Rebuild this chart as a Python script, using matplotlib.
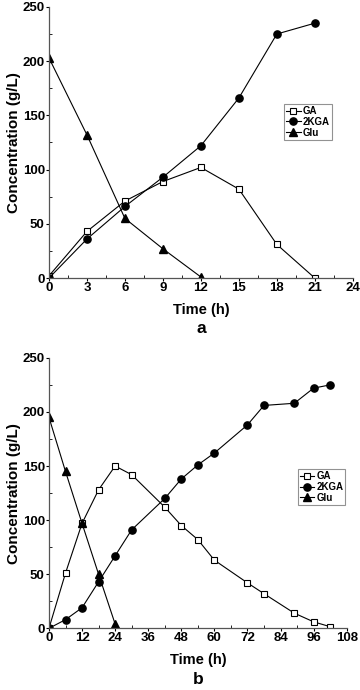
import matplotlib
matplotlib.use("Agg")
import matplotlib.pyplot as plt
from matplotlib.ticker import MultipleLocator

plt.rcParams['font.family'] = ['Liberation Sans', 'DejaVu Sans']
plt.rcParams['font.weight'] = 'bold'

# panel a
t_a = [0, 3, 6, 9, 12, 15, 18, 21]
ga_a = [2, 43, 71, 89, 102, 82, 31, 0]
kga_a = [0, 36, 66, 93, 122, 166, 225, 235]
t_glu_a = [0, 3, 6, 9, 12]
glu_a = [203, 132, 55, 27, 1]

# panel b
t_b = [0, 6, 12, 18, 24, 30, 42, 48, 54, 60, 72, 78, 89, 96, 102]
ga_b = [0, 51, 97, 128, 150, 142, 112, 95, 82, 63, 42, 32, 14, 6, 1.5]
kga_b = [0, 8, 19, 43, 67, 91, 120, 138, 151, 162, 188, 206, 208, 222, 225]
t_glu_b = [0, 6, 12, 18, 24]
glu_b = [195, 145, 97, 50, 4]


def draw_panel(ax, t, ga, kga, tg, glu, xmax, xstep, letter, leg_anchor):
    ax.plot(t, ga, '-s', color='black', mfc='white', mec='black', ms=4.8, lw=0.8, mew=0.8, label='GA')
    ax.plot(t, kga, '-o', color='black', ms=5.2, lw=0.8, label='2KGA')
    ax.plot(tg, glu, '-^', color='black', ms=5.2, lw=0.8, label='Glu')
    ax.set_xlim(0, xmax)
    ax.set_ylim(0, 250)
    ax.xaxis.set_major_locator(MultipleLocator(xstep))
    ax.xaxis.set_minor_locator(MultipleLocator(xstep / 2))
    ax.yaxis.set_major_locator(MultipleLocator(50))
    ax.yaxis.set_minor_locator(MultipleLocator(25))
    ax.spines['top'].set_visible(False)
    ax.spines['right'].set_visible(False)
    for s in ('left', 'bottom'):
        ax.spines[s].set_color('#555555')
        ax.spines[s].set_linewidth(0.9)
    ax.tick_params(which='major', direction='out', length=2.5, width=0.8, labelsize=9.5, pad=0.5)
    ax.tick_params(which='minor', direction='in', length=2, width=0.6)
    for lab in ax.get_xticklabels() + ax.get_yticklabels():
        lab.set_fontweight('bold')
    ax.set_xlabel('Time (h)', fontsize=10.5, fontweight='bold', labelpad=6)
    ax.set_ylabel('Concentration (g/L)', fontsize=11, fontweight='bold', labelpad=1)
    ax.text(0.5, -0.16, letter, transform=ax.transAxes, ha='center', va='top',
            fontsize=12.5, fontweight='bold')
    leg = ax.legend(loc='upper left', bbox_to_anchor=leg_anchor, fontsize=7,
                    frameon=True, fancybox=False, edgecolor='#777777',
                    handlelength=1.5, handletextpad=0.2, labelspacing=0.1,
                    borderpad=0.2, borderaxespad=0)
    leg.get_frame().set_linewidth(0.8)
    for txt in leg.get_texts():
        txt.set_fontweight('bold')


fig = plt.figure(figsize=(3.6, 6.9), dpi=100)
ax1 = fig.add_axes([0.136, 0.597, 0.844, 0.393])
ax2 = fig.add_axes([0.136, 0.0894, 0.827, 0.392])

draw_panel(ax1, t_a, ga_a, kga_a, t_glu_a, glu_a, 24, 3, 'a', (0.774, 0.642))
draw_panel(ax2, t_b, ga_b, kga_b, t_glu_b, glu_b, 108, 12, 'b', (0.836, 0.589))

fig.savefig('out.png', dpi=100)
